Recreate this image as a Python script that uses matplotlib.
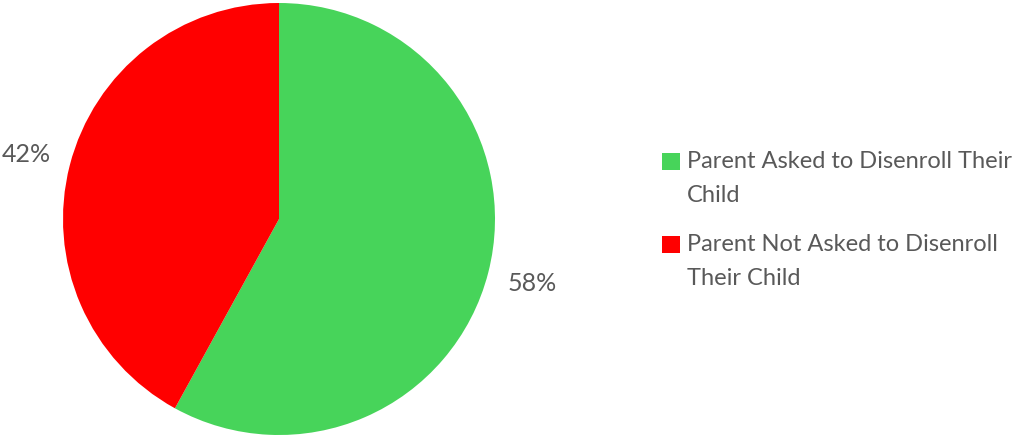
import matplotlib.pyplot as plt
from matplotlib.patches import Rectangle, Wedge
from matplotlib.legend_handler import HandlerPatch

# Share of parents asked to disenroll their child
labels = ["Parent Asked to Disenroll Their\nChild", "Parent Not Asked to Disenroll\nTheir Child"]
shares = [58, 42]
colors = ["#47D45A", "#FF0000"]
text_color = "#595959"

plt.rcParams["font.family"] = ["Lato", "DejaVu Sans"]

fig = plt.figure(figsize=(10.26, 4.38), dpi=100)
W, H = 1026, 438
cx, cy, r = 279, 219, 216
ax = fig.add_axes([(cx - r) / W, (H - cy - r) / H, 2 * r / W, 2 * r / H])

wedges, _, autotexts = ax.pie(
    shares,
    colors=colors,
    startangle=90,
    counterclock=False,
    radius=1.0,
    autopct=lambda p: f"{p:.0f}%",
    pctdistance=1.21,
    wedgeprops=dict(linewidth=0),
)
for t in autotexts:
    t.set_color(text_color)
    t.set_fontsize(18)

ax.set_xlim(-1, 1)
ax.set_ylim(-1, 1)
ax.set_aspect("equal")
ax.axis("off")


def top_square(legend, orig_handle, xdescent, ydescent, width, height, fontsize):
    # square marker lined up with the first line of a two-line label
    return Rectangle((-xdescent, -ydescent + 0.72 * fontsize), width, height)


leg = fig.legend(
    wedges,
    labels,
    loc="center left",
    bbox_to_anchor=(662 / W, 1 - 220 / H),
    frameon=False,
    fontsize=17,
    labelcolor=text_color,
    handlelength=0.75,
    handleheight=0.75,
    handletextpad=0.3,
    labelspacing=1.2,
    borderpad=0,
    borderaxespad=0,
    handler_map={Wedge: HandlerPatch(patch_func=top_square)},
)
for t in leg.get_texts():
    t.set_linespacing(1.75)

fig.savefig("out.png", dpi=100)
